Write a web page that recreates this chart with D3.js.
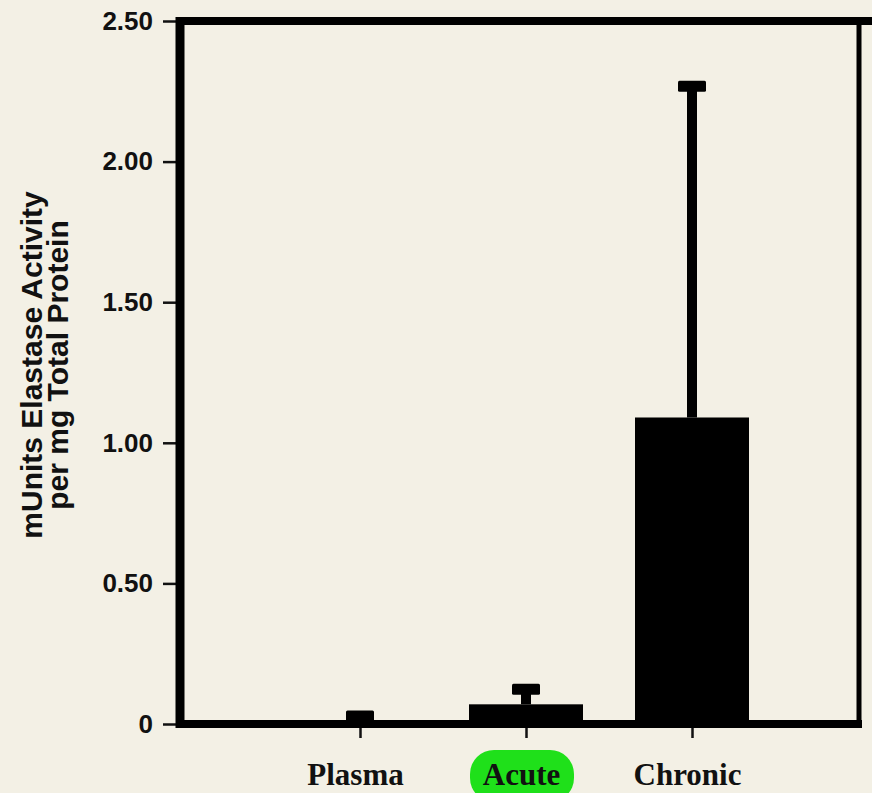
<!DOCTYPE html>
<html>
<head>
<meta charset="utf-8">
<script src="https://cdn.jsdelivr.net/npm/d3@7"></script>
<style>
	html, body { margin: 0; padding: 0; background: #f3f0e5; }
	svg { display: block; }
</style>
</head>
<body>
<svg id="chart"></svg>
<script>
// values
var categories = ["Plasma", "Acute", "Chronic"];
var means = [0.005, 0.07, 1.09];
var errorTops = [0.03, 0.125, 2.27];
var yTicks = [0, 0.5, 1.0, 1.5, 2.0, 2.5];
var yTitle = ["mUnits Elastase Activity", "per mg Total Protein"];

var width = 872, height = 793;

var svg = d3.select("#chart")
	.attr("width", width)
	.attr("height", height);

svg.append("rect")
	.attr("width", width).attr("height", height)
	.attr("fill", "#f3f0e5");

var x = d3.scalePoint().domain(categories).range([360, 692]);
var y = d3.scaleLinear().domain([0, 2.5]).range([724, 21]);
var barWidth = 114, capWidth = 28;

var left = 180, right = 859;

// highlighter blob behind "Acute"
svg.append("rect")
	.attr("x", 470).attr("y", 750)
	.attr("width", 104).attr("height", 52)
	.attr("rx", 24)
	.attr("fill", "#1fe01a");

// bars
svg.append("g").selectAll("rect")
	.data(categories)
	.enter().append("rect")
	.attr("x", d => x(d) - barWidth / 2)
	.attr("y", (d, i) => y(means[i]))
	.attr("width", barWidth)
	.attr("height", (d, i) => y(0) - y(means[i]))
	.attr("fill", "#000");

// error bars
var err = svg.append("g");
err.selectAll("line")
	.data(categories)
	.enter().append("line")
	.attr("x1", d => x(d)).attr("x2", d => x(d))
	.attr("y1", (d, i) => y(means[i]))
	.attr("y2", (d, i) => y(errorTops[i]))
	.attr("stroke", "#000")
	.attr("stroke-width", 10);
err.selectAll("rect")
	.data(categories)
	.enter().append("rect")
	.attr("x", d => x(d) - capWidth / 2)
	.attr("y", (d, i) => y(errorTops[i]) - 5)
	.attr("width", capWidth)
	.attr("height", 11)
	.attr("rx", 1.5)
	.attr("fill", "#000");

// left axis
var yAxis = svg.append("g")
	.attr("transform", "translate(" + left + ",0)")
	.call(d3.axisLeft(y).tickValues(yTicks).tickSize(17).tickPadding(10)
		.tickFormat(d => d === 0 ? "0" : d3.format(".2f")(d)));
yAxis.select(".domain").remove();
yAxis.selectAll(".tick line").attr("stroke", "#111").attr("stroke-width", 2.5);
yAxis.selectAll(".tick text")
	.attr("fill", "#111")
	.style("font-family", "'Liberation Sans', Arial, sans-serif")
	.style("font-weight", "bold")
	.style("font-size", "26px");

// bottom axis
var xAxis = svg.append("g")
	.attr("transform", "translate(0," + y(0) + ")")
	.call(d3.axisBottom(x).tickSize(14).tickPadding(30));
xAxis.select(".domain").remove();
xAxis.selectAll(".tick line").attr("stroke", "#111").attr("stroke-width", 2.5);
xAxis.selectAll(".tick text")
	.attr("fill", "#111")
	.attr("dx", "-5")
	.attr("dy", "0.55em")
	.style("font-family", "'Liberation Serif', 'Times New Roman', serif")
	.style("font-weight", "bold")
	.style("font-size", "31px");

// frame
var frame = svg.append("g").attr("fill", "none").attr("stroke", "#000");
frame.append("line")
	.attr("x1", left).attr("x2", left)
	.attr("y1", y(2.5) - 4).attr("y2", y(0) + 4)
	.attr("stroke-width", 9);
frame.append("line")
	.attr("x1", left - 4).attr("x2", width)
	.attr("y1", y(2.5)).attr("y2", y(2.5))
	.attr("stroke-width", 8);
frame.append("line")
	.attr("x1", left - 4).attr("x2", right + 3)
	.attr("y1", y(0)).attr("y2", y(0))
	.attr("stroke-width", 8);
frame.append("line")
	.attr("x1", right).attr("x2", right)
	.attr("y1", y(2.5)).attr("y2", y(0))
	.attr("stroke-width", 5);

// y title
var title = svg.append("text")
	.attr("transform", "translate(42," + 365 + ") rotate(-90)")
	.attr("text-anchor", "middle")
	.attr("fill", "#111")
	.style("font-family", "'Liberation Sans', Arial, sans-serif")
	.style("font-weight", "bold")
	.style("font-size", "30px");
title.selectAll("tspan")
	.data(yTitle)
	.enter().append("tspan")
	.attr("x", 0)
	.attr("dy", (d, i) => i === 0 ? 0 : 26)
	.text(d => d);
</script>
</body>
</html>
